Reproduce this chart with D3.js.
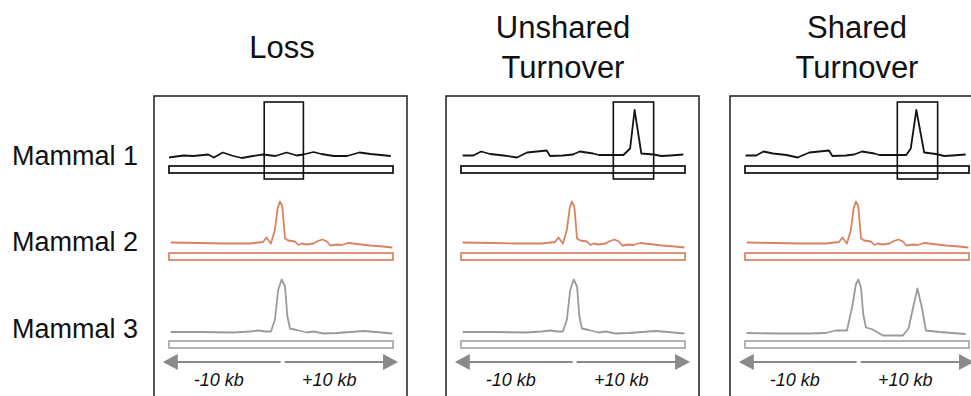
<!DOCTYPE html>
<html>
<head>
<meta charset="utf-8">
<script src="https://cdn.jsdelivr.net/npm/d3@7"></script>
<style>
  body { margin: 0; background: #fff; }
  svg { display: block; font-family: "Liberation Sans", Arial, sans-serif; }
</style>
</head>
<body>
<div id="chart"></div>
<script>
// panel titles (one entry per line) and row labels
var panelTitles = [["Loss"], ["Unshared", "Turnover"], ["Shared", "Turnover"]];
var rowLabels = ["Mammal 1", "Mammal 2", "Mammal 3"];
var kbLabels = ["-10 kb", "+10 kb"];

// signal tracks: [position in kb, signal]
var mammal1Loss = [[-10,0.5],[-8.7,0.9],[-7.8,0.8],[-6.5,1.1],[-6.0,0.5],[-5.2,1.5],[-4.4,0.9],[-3.5,0.4],
  [-2.5,0.8],[-1.6,1.1],[-0.5,0.8],[0.5,1.5],[1.4,0.9],[2.0,1.1],[2.9,1.6],[3.6,1.2],[4.7,0.8],
  [5.9,0.8],[7.0,1.5],[8.0,1.2],[9.8,0.8]];
var mammal1Unshared = [[-9.85,0.9],[-8.9,0.9],[-8.2,1.7],[-7.4,1.2],[-6.2,0.9],[-5.0,0.5],[-4.1,1.5],
  [-2.35,1.9],[-2.05,0.8],[-0.9,0.9],[0.0,1.1],[0.6,1.7],[1.8,1.3],[2.3,1.0],[3.6,1.0],[4.5,1.0],
  [5.1,2.3],[5.5,10],[6.1,1.3],[7.2,1.1],[7.9,0.8],[8.7,0.9],[9.85,1.1]];
var mammal1Shared = [[-9.95,0.9],[-9.0,0.9],[-8.35,1.7],[-7.5,1.3],[-6.3,1.0],[-5.3,0.5],[-4.25,1.5],
  [-2.5,1.9],[-2.2,0.8],[-1.0,0.9],[-0.25,1.1],[0.45,1.7],[1.55,1.3],[2.0,1.0],[3.5,1.0],[4.4,1.0],
  [4.8,2.3],[5.3,10],[6.0,1.5],[7.05,1.2],[7.8,0.8],[8.5,0.9],[9.7,1.1]];
var mammal2Signal = [[-9.85,0.9],[-7.2,0.8],[-5.15,0.7],[-2.8,0.7],[-1.6,1.0],[-1.3,1.9],[-0.9,0.7],
  [-0.55,3.4],[-0.3,7.7],[-0.1,9.1],[0.12,8.1],[0.36,1.7],[0.65,1.3],[1.25,1.1],[1.55,0.4],[1.85,0.7],
  [2.3,0.5],[2.9,0.7],[3.3,1.2],[3.7,1.5],[4.1,1.1],[4.4,0.3],[5.0,0.5],[5.4,0.4],[6.0,0.8],[6.8,0.6],
  [7.95,0.3],[9.1,0.1],[9.95,-0.1]];
var mammal3Single = [[-9.85,0.6],[-7.2,0.6],[-4.25,0.5],[-2.8,0.7],[-2.0,0.9],[-1.4,0.7],[-0.9,0.7],
  [-0.55,3.0],[-0.25,9.0],[0.06,11.1],[0.36,9.7],[0.57,3.7],[0.8,1.3],[1.4,1.0],[2.3,0.5],[2.9,0.7],
  [3.8,0.3],[5.0,0.4],[6.2,0.6],[7.35,0.8],[8.5,0.6],[9.95,0.3]];
var mammal3Shared = [[-9.85,0.4],[-7.2,0.3],[-4.25,0.3],[-2.8,0.4],[-1.9,0.9],[-0.9,0.9],[-0.45,5.4],
  [-0.1,10.1],[0.12,11.1],[0.36,9.4],[0.56,4.1],[0.8,1.5],[1.4,1.1],[2.3,-0.1],[3.2,-0.1],[4.1,-0.1],
  [4.6,1.3],[5.0,5.4],[5.4,9.3],[5.8,5.4],[6.15,0.9],[7.35,0.6],[8.5,0.4],[9.7,0.2]];

// highlighted regions in kb
var lossBox = [-1.5, 2.0];
var turnoverBox = [3.6, 7.2];

var panels = [
  {tracks: [mammal1Loss, mammal2Signal, mammal3Single], box: lossBox},
  {tracks: [mammal1Unshared, mammal2Signal, mammal3Single], box: turnoverBox},
  {tracks: [mammal1Shared, mammal2Signal, mammal3Shared], box: turnoverBox}
];

var width = 971, height = 396;
var panelX = [154, 446, 730],
    panelW = 253,
    panelTop = 96,
    rowY = [160, 247, 335],
    titleX = [282, 563, 857];
var lineColors = ["#141414", "#d9825f", "#9a9a9a"],
    barColors = ["#1a1a1a", "#dc8766", "#ababab"];

var svg = d3.select("#chart").append("svg")
    .attr("width", width)
    .attr("height", height);

// x scale per panel: -10..+10 kb
var x = d3.scaleLinear().domain([-10, 10]).range([15, 239]);
// y scale per row, relative to the row baseline
var y = d3.scaleLinear().domain([0, 10]).range([0, -50]);

var line = d3.line()
    .x(function(d) { return x(d[0]); })
    .y(function(d) { return y(d[1]); });

// row labels
svg.selectAll(".rowlabel")
    .data(rowLabels)
  .enter().append("text")
    .attr("class", "rowlabel")
    .attr("x", 12)
    .attr("y", function(d, i) { return rowY[i] + 5 + (i == 0 ? 0 : (i == 1 ? -1 : -2)) ; })
    .style("font-size", "27px")
    .attr("fill", "#111")
    .text(function(d) { return d; });

// panel titles
panelTitles.forEach(function(lines, i) {
    var t = svg.append("text")
        .attr("text-anchor", "middle")
        .style("font-size", "31px")
        .attr("fill", "#111");
    lines.forEach(function(s, j) {
        var base = lines.length == 1 ? 58 : 38 + j * 40;
        t.append("tspan").attr("x", titleX[i]).attr("y", base).text(s);
    });
});

var arrowY = 362;

panels.forEach(function(p, i) {
    var g = svg.append("g").attr("transform", "translate(" + panelX[i] + ",0)");

    // panel frame (runs off the bottom)
    g.append("rect")
        .attr("x", 0).attr("y", panelTop)
        .attr("width", panelW).attr("height", 400)
        .attr("fill", "none")
        .attr("stroke", "#2b2b2b")
        .attr("stroke-width", 1.6);

    p.tracks.forEach(function(track, r) {
        var row = g.append("g").attr("transform", "translate(0," + rowY[r] + ")");
        row.append("rect")
            .attr("x", x(-10)).attr("y", 6)
            .attr("width", x(10) - x(-10)).attr("height", 7)
            .attr("fill", "#fff")
            .attr("stroke", barColors[r])
            .attr("stroke-width", 1.8);
        row.append("path")
            .datum(track)
            .attr("d", line)
            .attr("fill", "none")
            .attr("stroke", lineColors[r])
            .attr("stroke-width", 1.8)
            .attr("stroke-linejoin", "round");
    });

    // highlight box on Mammal 1
    g.append("rect")
        .attr("x", x(p.box[0]))
        .attr("y", rowY[0] + y(11.6))
        .attr("width", x(p.box[1]) - x(p.box[0]))
        .attr("height", y(-3.8) - y(11.6))
        .attr("fill", "none")
        .attr("stroke", "#111")
        .attr("stroke-width", 1.6);

    // double arrow
    var ac = "#8a8a8a";
    var left = x(-10.55), right = x(10.45), mid = x(0.15);
    g.append("line")
        .attr("x1", left + 12).attr("x2", mid - 2)
        .attr("y1", arrowY).attr("y2", arrowY)
        .attr("stroke", ac).attr("stroke-width", 2);
    g.append("line")
        .attr("x1", mid + 2).attr("x2", right - 12)
        .attr("y1", arrowY).attr("y2", arrowY)
        .attr("stroke", ac).attr("stroke-width", 2);
    g.append("path")
        .attr("d", "M" + left + "," + arrowY + "L" + (left + 15) + "," + (arrowY - 8) + "L" + (left + 15) + "," + (arrowY + 8) + "Z")
        .attr("fill", ac);
    g.append("path")
        .attr("d", "M" + right + "," + arrowY + "L" + (right - 15) + "," + (arrowY - 8) + "L" + (right - 15) + "," + (arrowY + 8) + "Z")
        .attr("fill", ac);

    g.selectAll(".kb")
        .data(kbLabels)
      .enter().append("text")
        .attr("class", "kb")
        .attr("x", function(d, k) { return x(k == 0 ? -5.55 : 4.3); })
        .attr("y", 386)
        .attr("text-anchor", "middle")
        .style("font-size", "18px")
        .style("font-style", "italic")
        .attr("fill", "#111")
        .text(function(d) { return d; });
});
</script>
</body>
</html>
